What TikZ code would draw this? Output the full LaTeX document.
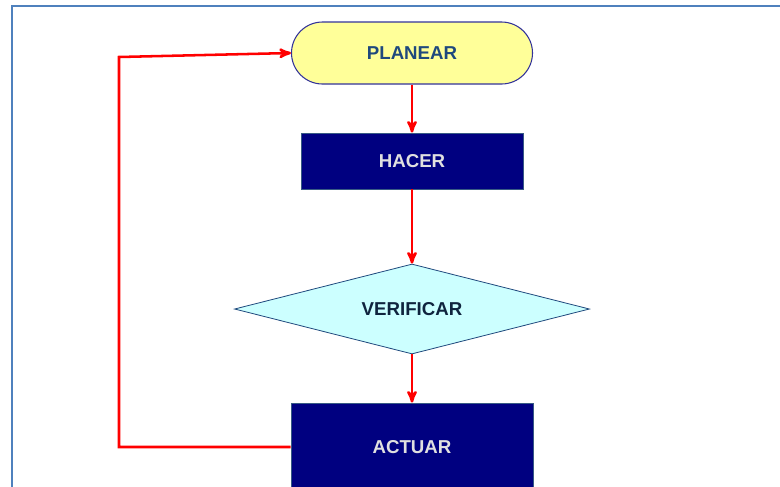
\documentclass[tikz,border=0pt]{standalone}
\usepackage{fontspec}
\setmainfont{Liberation Sans}
\usepackage{tikz}
\usetikzlibrary{arrows,shapes.geometric}
\definecolor{frameblue}{HTML}{4F81BD}
\definecolor{paleyellow}{HTML}{FFFF99}
\definecolor{paleblue}{HTML}{CCFFFF}
\definecolor{navyfill}{HTML}{000080}
\definecolor{titleblue}{HTML}{1F497D}
\definecolor{darkink}{HTML}{0F243E}
\tikzstyle{terminal} = [rectangle, rounded corners=23.25pt, minimum width=180.75pt, minimum height=46.5pt, text centered, draw=navyfill!80, line width=0.8pt, fill=paleyellow, text=titleblue]
\tikzstyle{process} = [rectangle, minimum width=166.5pt, minimum height=42pt, text centered, draw=frameblue!70!black, line width=0.6pt, fill=navyfill, text=white!88!black]
\tikzstyle{decision} = [diamond, aspect=4, inner sep=0pt, minimum width=266.25pt, minimum height=67.5pt, text centered, draw=titleblue, line width=0.6pt, fill=paleblue, text=darkink]
\tikzstyle{arrow} = [line width=1.9pt, red, ->, >=stealth']

\begin{document}
\begin{tikzpicture}[node distance=81pt, font=\fontsize{14}{16}\selectfont\bfseries]
		\useasboundingbox (0,0) rectangle (585pt,-364.5pt);
		\clip (0,0) rectangle (585pt,-364.5pt);
		% page frame
		\draw [frameblue, line width=1.5pt] (9pt,-365pt) -- (9pt,-4.5pt) -- (586pt,-4.5pt);

		\node (planear) [terminal] at (309pt,-39.75pt) {PLANEAR};
		\node (hacer) [process, below of=planear] {HACER};
		\node (verificar) [decision, below of=hacer, yshift=-30pt] {VERIFICAR};
		\node (actuar) [process, below of=verificar, yshift=-22.5pt, minimum width=181.5pt, minimum height=66pt] {ACTUAR};
		\coordinate (loopup) at (89.25pt,-42.75pt);

		\draw [arrow] (planear) -- (hacer);
		\draw [arrow] (hacer) -- (verificar);
		\draw [arrow] (verificar) -- (actuar);
		\draw [arrow] (actuar.west) -| (loopup) -- (planear.west);
	\end{tikzpicture}
\end{document}
